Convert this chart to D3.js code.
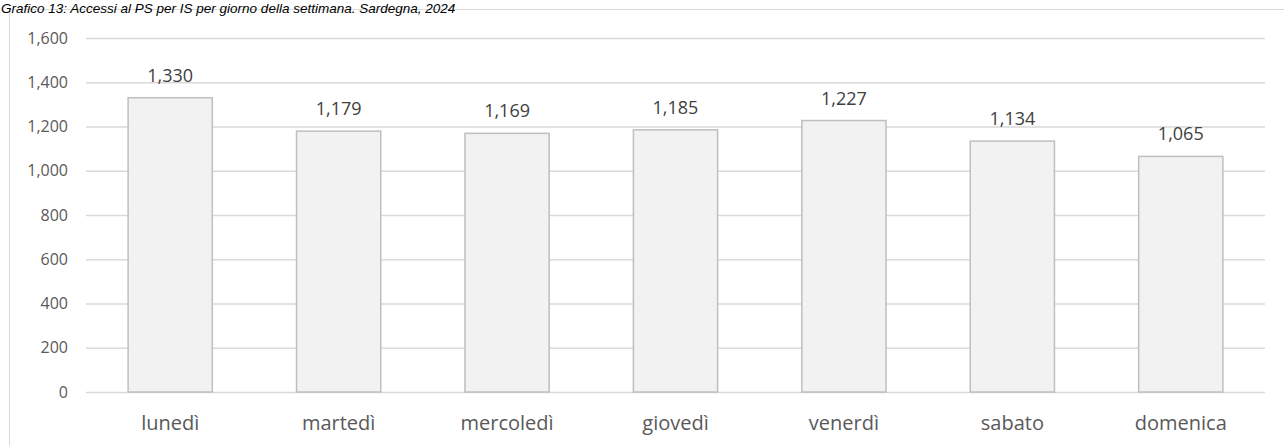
<!DOCTYPE html>
<html>
<head>
<meta charset="utf-8">
<script src="https://cdn.jsdelivr.net/npm/d3@7"></script>
<style>
  body { margin: 0; background: #fff; }
  svg { display: block; }
</style>
</head>
<body>
<div id="chart"></div>
<script>
// ===== Chart data =====
const days = ['lunedì', 'martedì', 'mercoledì', 'giovedì', 'venerdì', 'sabato', 'domenica'];
const accessi = [1330, 1179, 1169, 1185, 1227, 1134, 1065];
const yTicks = [0, 200, 400, 600, 800, 1000, 1200, 1400, 1600];
const title = 'Grafico 13: Accessi al PS per IS per giorno della settimana. Sardegna, 2024';

const width = 1284;
const height = 446;
const margin = { top: 38, right: 19, bottom: 54, left: 86 }; // plot area 86..1265, 38..392

const svg = d3.select('#chart')
  .append('svg')
  .attr('width', width)
  .attr('height', height);

// outer frame (only top and left edges are visible in the crop)
svg.append('path')
  .attr('d', `M9.5,${height} V9.5 H${width}`)
  .attr('fill', 'none')
  .attr('stroke', '#d9d9d9')
  .attr('stroke-width', 1);

svg.append('text')
  .attr('x', 1)
  .attr('y', 12.5)
  .attr('font-family', 'Liberation Sans, Arial, sans-serif')
  .attr('font-style', 'italic')
  .attr('font-size', 13.5)
  .attr('fill', '#000')
  .text(title);

const x = d3.scaleBand()
  .domain(days)
  .range([margin.left, width - margin.right])
  .paddingInner(0.5)
  .paddingOuter(0.25);

const y = d3.scaleLinear()
  .domain([0, 1600])
  .range([height - margin.bottom, margin.top]);

// gridlines + y labels
svg.append('g')
  .attr('transform', `translate(${margin.left},0)`)
  .call(d3.axisLeft(y)
    .tickValues(yTicks)
    .tickSize(-(width - margin.left - margin.right))
    .tickPadding(18)
    .tickFormat(d3.format(',')))
  .call(g => g.select('.domain').remove())
  .call(g => g.selectAll('.tick line')
    .attr('stroke', '#d9d9d9')
    .attr('stroke-width', 1.3))
  .call(g => g.selectAll('.tick text')
    .attr('fill', '#595959')
    .attr('font-family', 'Open Sans, sans-serif')
    .attr('font-size', 16));

// bars
svg.selectAll('.bar')
  .data(days)
  .enter()
  .append('rect')
  .attr('class', 'bar')
  .attr('x', d => x(d))
  .attr('y', (d, i) => y(accessi[i]))
  .attr('width', x.bandwidth())
  .attr('height', (d, i) => y(0) - y(accessi[i]))
  .attr('fill', '#f2f2f2')
  .attr('stroke', '#bfbfbf')
  .attr('stroke-width', 1.5);

// value labels
svg.selectAll('.val')
  .data(days)
  .enter()
  .append('text')
  .attr('class', 'val')
  .attr('x', d => x(d) + x.bandwidth() / 2)
  .attr('y', (d, i) => y(accessi[i]) - 16)
  .attr('text-anchor', 'middle')
  .attr('fill', '#404040')
  .attr('font-family', 'Open Sans, sans-serif')
  .attr('font-size', 18)
  .text((d, i) => d3.format(',')(accessi[i]));

// category labels
svg.append('g')
  .attr('transform', `translate(0,${y(0)})`)
  .call(d3.axisBottom(x).tickSize(0).tickPadding(24))
  .call(g => g.select('.domain').remove())
  .call(g => g.selectAll('.tick text')
    .attr('fill', '#595959')
    .attr('font-family', 'Open Sans, sans-serif')
    .attr('font-size', 20));
</script>
</body>
</html>
